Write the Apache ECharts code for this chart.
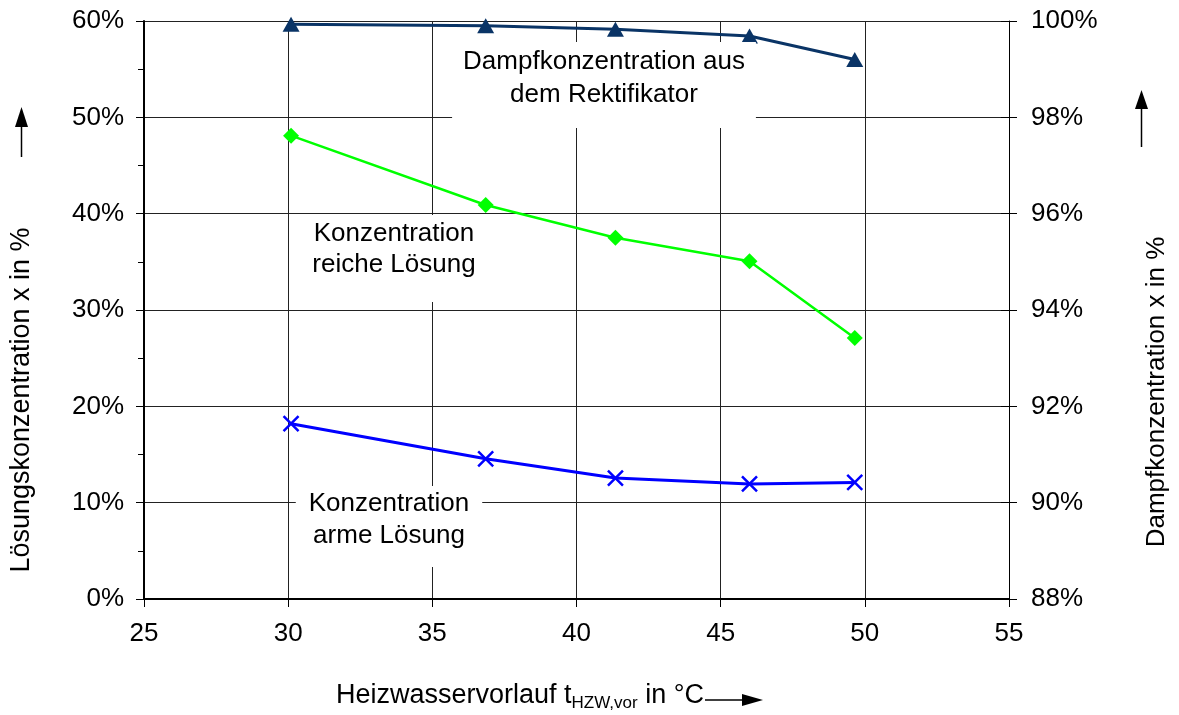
<!DOCTYPE html>
<html>
<head>
<meta charset="utf-8">
<script src="https://cdn.jsdelivr.net/npm/echarts@6/dist/echarts.min.js"></script>
<style>html,body{margin:0;padding:0;background:#fff;}#c{width:1179px;height:715px;}</style>
</head>
<body>
<div id="c"></div>
<script>
// Data
const temps = [30.1, 36.85, 41.35, 46.0, 49.65];          // Heizwasservorlauf in °C
const dampf = [99.93, 99.90, 99.83, 99.69, 99.20];        // Dampfkonzentration (right axis, %)
const reiche = [48.1, 40.9, 37.5, 35.05, 27.1];           // Konzentration reiche Lösung (%)
const arme = [18.2, 14.55, 12.55, 11.95, 12.1];           // Konzentration arme Lösung (%)
const xTicks = {min: 25, max: 55, interval: 5};
const leftTicks = {min: 0, max: 60, interval: 10};
const rightTicks = {min: 88, max: 100, interval: 2};

const FONT = "'Liberation Sans', Arial, sans-serif";
const pair = arr => temps.map((t, i) => [t, arr[i]]);

const chart = echarts.init(document.getElementById('c'), null, {renderer: 'canvas'});
const labelStyle = {color: '#000', fontFamily: FONT, fontSize: 26};

chart.setOption({
  animation: false,
  backgroundColor: '#fff',
  grid: {left: 144, right: 170, top: 21, bottom: 116, containLabel: false},
  xAxis: {
    type: 'value', min: xTicks.min, max: xTicks.max, interval: xTicks.interval,
    axisLine: {show: true, onZero: false, lineStyle: {color: '#000', width: 2}},
    axisTick: {show: true, inside: false, length: 8, lineStyle: {color: '#000', width: 1}},
    axisLabel: Object.assign({margin: 22}, labelStyle),
    splitLine: {show: true, lineStyle: {color: '#222', width: 1}}
  },
  yAxis: [
    {
      type: 'value', position: 'left', min: leftTicks.min, max: leftTicks.max, interval: leftTicks.interval,
      axisLine: {show: true, lineStyle: {color: '#000', width: 2}},
      axisTick: {show: true, length: 8, lineStyle: {color: '#000', width: 1}},
      minorTick: {show: true, splitNumber: 2, length: 6, lineStyle: {color: '#000', width: 1}},
      axisLabel: Object.assign({margin: 20, formatter: '{value}%'}, labelStyle),
      splitLine: {show: true, lineStyle: {color: '#222', width: 1}}
    },
    {
      type: 'value', position: 'right', min: rightTicks.min, max: rightTicks.max, interval: rightTicks.interval,
      axisLine: {show: true, lineStyle: {color: '#000', width: 1}},
      axisTick: {show: true, length: 8, lineStyle: {color: '#000', width: 1}},
      axisLabel: Object.assign({margin: 22, formatter: '{value}%'}, labelStyle),
      splitLine: {show: false}
    },
    {
      type: 'value', position: 'right', min: rightTicks.min, max: rightTicks.max, interval: rightTicks.interval,
      axisLine: {show: false},
      axisTick: {show: true, inside: true, length: 8, lineStyle: {color: '#000', width: 1}},
      axisLabel: {show: false},
      splitLine: {show: false}
    }
  ],
  series: [
    {
      name: 'Dampfkonzentration aus dem Rektifikator', type: 'line', yAxisIndex: 1,
      data: pair(dampf), symbol: 'triangle', symbolSize: [17, 15],
      lineStyle: {color: '#0a3466', width: 3}, itemStyle: {color: '#0a3466'}, z: 5
    },
    {
      name: 'Konzentration reiche Lösung', type: 'line', yAxisIndex: 0,
      data: pair(reiche), symbol: 'diamond', symbolSize: [16, 16],
      lineStyle: {color: '#00ff00', width: 2.5}, itemStyle: {color: '#00ff00'}, z: 5
    },
    {
      name: 'Konzentration arme Lösung', type: 'line', yAxisIndex: 0,
      data: pair(arme), symbol: 'path://M0,0L10,10M10,0L0,10', symbolSize: [15, 15],
      lineStyle: {color: '#0000ff', width: 3},
      itemStyle: {color: '#0000ff', borderColor: '#0000ff', borderWidth: 2.5}, z: 5
    }
  ],
  graphic: [
    {type: 'text', z: 10, style: {text: 'Dampfkonzentration aus\ndem Rektifikator', x: 604, y: 42,
      font: '26px ' + FONT, fill: '#000', align: 'center', verticalAlign: 'top', lineHeight: 33,
      backgroundColor: '#fff', padding: [3, 11, 17, 11]}},
    {type: 'text', z: 10, style: {text: 'Konzentration\nreiche Lösung', x: 394, y: 215,
      font: '26px ' + FONT, fill: '#000', align: 'center', verticalAlign: 'top', lineHeight: 31,
      backgroundColor: '#fff', padding: [3, 14, 22, 14]}},
    {type: 'text', z: 10, style: {text: 'Konzentration\narme Lösung', x: 389, y: 486,
      font: '26px ' + FONT, fill: '#000', align: 'center', verticalAlign: 'top', lineHeight: 32,
      backgroundColor: '#fff', padding: [2, 13, 15, 13]}},
    // left axis title + arrow
    {type: 'text', z: 10, x: 22, y: 400, rotation: Math.PI / 2,
      style: {text: 'Lösungskonzentration x in %', x: 0, y: 0, font: '27px ' + FONT, fill: '#000',
      align: 'center', verticalAlign: 'middle'}},
    {type: 'line', z: 10, shape: {x1: 21.5, y1: 124, x2: 21.5, y2: 157}, style: {stroke: '#000', lineWidth: 1.5}},
    {type: 'polygon', z: 10, shape: {points: [[21.5, 107], [15, 127], [28, 127]]}, style: {fill: '#000'}},
    // right axis title + arrow
    {type: 'text', z: 10, x: 1157, y: 392, rotation: Math.PI / 2,
      style: {text: 'Dampfkonzentration x in %', x: 0, y: 0, font: '26px ' + FONT, fill: '#000',
      align: 'center', verticalAlign: 'middle'}},
    {type: 'line', z: 10, shape: {x1: 1141.5, y1: 105, x2: 1141.5, y2: 147}, style: {stroke: '#000', lineWidth: 1.5}},
    {type: 'polygon', z: 10, shape: {points: [[1141.5, 90], [1135, 109], [1148, 109]]}, style: {fill: '#000'}},
    // x axis title + arrow
    {type: 'text', z: 10, style: {
      text: 'Heizwasservorlauf t{sub|HZW,vor} in °C', x: 336, y: 696,
      font: '27px ' + FONT, fill: '#000', align: 'left', verticalAlign: 'middle',
      rich: {sub: {fontSize: 17, fontFamily: FONT, fill: '#000', padding: [14, 0, 0, 0]}}}},
    {type: 'line', z: 10, shape: {x1: 705, y1: 700, x2: 746, y2: 700}, style: {stroke: '#000', lineWidth: 1.5}},
    {type: 'polygon', z: 10, shape: {points: [[742, 694], [763, 700], [742, 706]]}, style: {fill: '#000'}}
  ]
});
</script>
</body>
</html>
